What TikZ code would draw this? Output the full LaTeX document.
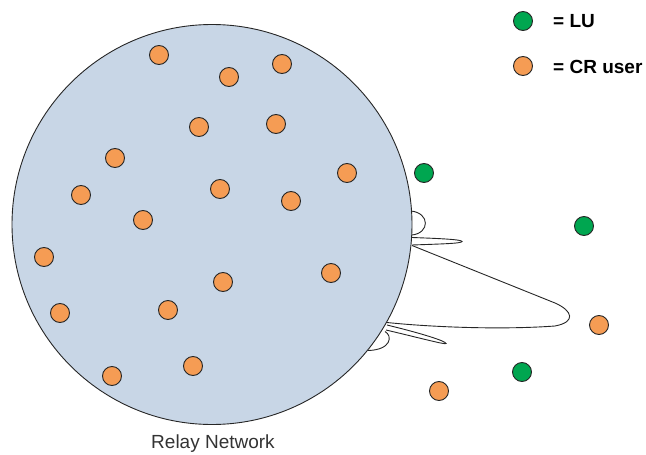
\documentclass[tikz,border=0pt]{standalone}
\usepackage{fontspec}
\setmainfont{Liberation Sans}
\definecolor{netfill}{RGB}{200,214,230}
\definecolor{crorange}{RGB}{245,156,84}
\definecolor{lugreen}{RGB}{0,166,80}
\begin{document}
\begin{tikzpicture}[x=1pt,y=-1pt,
  dot/.style={circle,draw=black!85,line width=0.9pt,inner sep=0pt,minimum size=19pt},
  cr/.style={dot,fill=crorange},
  lu/.style={dot,fill=lugreen},
  lobe/.style={draw=black!85,line width=0.9pt},
  legendtext/.style={anchor=west,inner sep=0pt,font=\fontsize{19}{22}\selectfont\bfseries},
  caption/.style={inner sep=0pt,font=\fontsize{19}{22}\selectfont,text=black!80}]
\useasboundingbox (0,0) rectangle (646,455);

% relay network area
\node[circle,draw=black!85,line width=0.9pt,fill=netfill,minimum size=400pt,inner sep=0pt] (net) at (212,224.5) {};
\node[caption] (cap) at (213,444) {Relay Network};

% CR users inside the relay network
\foreach \n/\x/\y in {c1/159/55, c2/229/77, c3/282/64, c4/199/127, c5/276/124,
  c6/115/158, c7/81/195, c8/220/189, c9/291/201, c10/347/173, c11/143/220,
  c12/44/257, c13/331/273, c14/223/282, c15/60/313, c16/168/310, c17/112/376,
  c18/193/366}
  \node[cr] (\n) at (\x,\y) {};

% users outside the network
\node[lu] (u1) at (424,173) {};
\node[lu] (u2) at (584,226) {};
\node[lu] (u3) at (522,372) {};
\node[cr] (o1) at (599,325) {};
\node[cr] (o2) at (439,391) {};

% antenna beam patterns on the network edge
\draw[lobe] (411,211) .. controls (430,213) and (430,233) .. (412,235);
\draw[lobe] (412,237.5) .. controls (440,238.5) and (462,239.5) .. (462,241.5)
            .. controls (462,243.5) and (440,244) .. (412,245);
\draw[lobe] (412,245.5) -- (555,303) .. controls (573,311) and (576,322) .. (555,326)
            .. controls (500,330) and (430,327) .. (387,322.5);
\draw[lobe] (387,325) .. controls (420,333) and (446,341) .. (446,343.5)
            .. controls (446,345) and (420,338) .. (386,330);
\draw[lobe] (385,331.5) .. controls (393,336) and (391,350) .. (368,350.5);

% legend
\node[lu] (k1) at (523,21) {};
\node[cr] (k2) at (523,66) {};
\node[legendtext] (t1) at (553,21.5) {= LU};
\node[legendtext] (t2) at (553,66.5) {= CR user};
\end{tikzpicture}
\end{document}
